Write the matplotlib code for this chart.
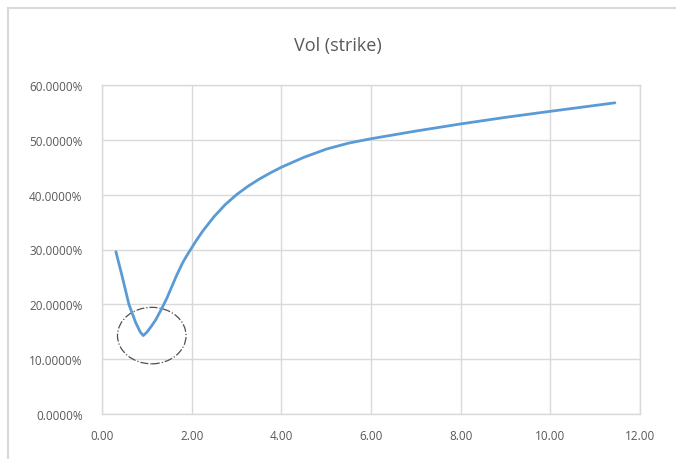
import matplotlib.pyplot as plt
from matplotlib.patches import Ellipse
from matplotlib.lines import Line2D
from matplotlib.ticker import FuncFormatter

# implied vol by strike
strike = [0.31, 0.45, 0.60, 0.75, 0.85, 0.92, 1.00, 1.10, 1.20, 1.33, 1.44,
          1.55, 1.66, 1.80, 1.90, 2.00, 2.10, 2.25, 2.50, 2.75, 3.00, 3.25,
          3.50, 3.75, 4.00, 4.50, 5.00, 5.50, 6.00, 7.00, 8.00, 9.00, 10.00,
          11.44]
vol = [29.6, 25.1, 20.0, 16.7, 15.0, 14.3, 14.9, 16.0, 17.2, 19.2, 21.0,
       23.1, 25.2, 27.6, 29.0, 30.3, 31.6, 33.4, 36.0, 38.2, 40.0, 41.5,
       42.8, 43.95, 45.0, 46.8, 48.3, 49.4, 50.2, 51.6, 52.9, 54.1, 55.2,
       56.75]

x_ticks = [0, 2, 4, 6, 8, 10, 12]
y_ticks = [0, 10, 20, 30, 40, 50, 60]

grid_col = '#D9D9D9'
text_col = '#595959'

plt.rcParams['font.family'] = ['Open Sans', 'DejaVu Sans']

fig = plt.figure(figsize=(6.76, 4.60), dpi=100)
ax = fig.add_axes([102 / 676, 45 / 460, 538 / 676, 329 / 460])

ax.plot(strike, vol, color='#5B9BD5', linewidth=2.0,
        solid_capstyle='round', solid_joinstyle='round')

# circle around the dip
ax.add_patch(Ellipse((1.11, 14.3), 1.53, 10.3, fill=False,
                     edgecolor='#505050', linestyle='-.', linewidth=0.9))

ax.set_xlim(0, 12)
ax.set_ylim(0, 60)
ax.set_xticks(x_ticks)
ax.set_yticks(y_ticks)
ax.xaxis.set_major_formatter(FuncFormatter(lambda v, p: f'{v:.2f}'))
ax.yaxis.set_major_formatter(FuncFormatter(lambda v, p: f'{v:.4f}%'))
ax.tick_params(length=0, labelsize=8.5, labelcolor=text_col)
ax.tick_params(axis='y', pad=14)
ax.tick_params(axis='x', pad=11)
ax.grid(True, color=grid_col, linewidth=1.0)
ax.set_axisbelow(True)
for s in ax.spines.values():
    s.set_color(grid_col)
    s.set_linewidth(1.0)

fig.text(338 / 676, 1 - 46 / 460, 'Vol (strike)', ha='center', va='center',
         fontsize=13, color=text_col)

# chart area border
fx, fy = 7.5 / 676, 1 - 8.5 / 460
fig.add_artist(Line2D([fx, fx], [0, fy], transform=fig.transFigure,
                      color=grid_col, linewidth=1.5))
fig.add_artist(Line2D([fx, 1], [fy, fy], transform=fig.transFigure,
                      color=grid_col, linewidth=1.5))

fig.savefig('out.png', dpi=100)
